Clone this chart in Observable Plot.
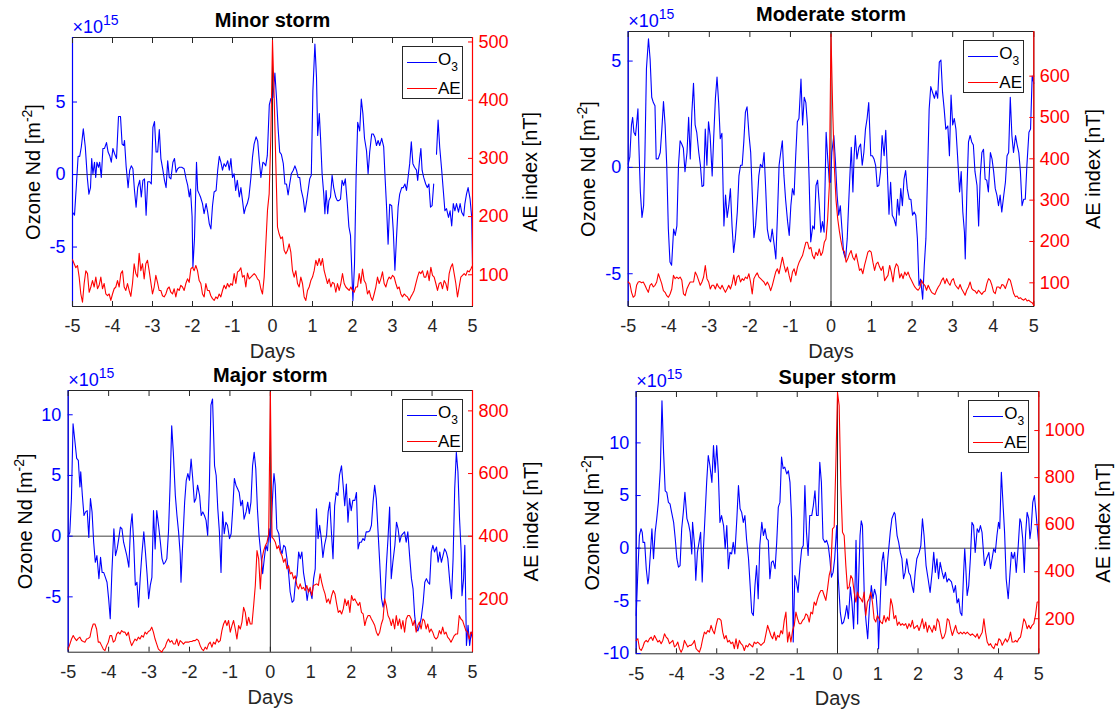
<!DOCTYPE html>
<html><head><meta charset="utf-8">
<script src="https://cdn.jsdelivr.net/npm/d3@7"></script>
<script src="https://cdn.jsdelivr.net/npm/@observablehq/plot@0.6"></script>
<style>
body{margin:0;background:#fff;}
#fig{position:relative;width:1115px;height:710px;overflow:hidden;background:#fff;font-family:"Liberation Sans",Arial,Helvetica,sans-serif;}
.panel{position:absolute;}
.panel svg{position:absolute;left:0;top:0;max-width:none;overflow:visible;}
.legend{position:absolute;width:61px;height:53px;box-sizing:border-box;border:1px solid #262626;background:#fff;font-size:17px;color:#000;}
.legend .sw{position:absolute;left:4px;width:30px;height:1px;}
.legend .lt{position:absolute;left:35px;line-height:17px;white-space:nowrap;}
.legend sub{font-size:12px;position:relative;top:6px;vertical-align:baseline;}
</style></head>
<body><div id="fig"></div>
<script>
// ---------------- DATA ----------------
const dayTicks = [-5,-4,-3,-2,-1,0,1,2,3,4,5];
const titles = ["Minor storm","Moderate storm","Major storm","Super storm"];
const o3Label = "Ozone Nd [m^{-2}]";
const aeLabel = "AE index [nT]";
const xLabel = "Days";
const scaleLabel = "×10^{15}";
const minorO3Ticks = [-5,0,5], minorAETicks = [100,200,300,400,500];
const moderateO3Ticks = [-5,0,5], moderateAETicks = [100,200,300,400,500,600];
const majorO3Ticks = [-5,0,5,10], majorAETicks = [200,400,600,800];
const superO3Ticks = [-10,-5,0,5,10], superAETicks = [200,400,600,800,1000];

// Ozone number density anomaly (x10^15 m^-2): [day, value]
const minorO3 = [[-5.00,-2.6],[-4.95,-2.8],[-4.90,-0.6],[-4.86,1.25],[-4.82,1.25],[-4.78,1.9],[-4.73,3.15],[-4.68,1.9],[-4.63,-0.2],[-4.59,-1.35],[-4.55,-0.9],[-4.52,1.1],[-4.49,0.05],[-4.45,0.85],[-4.42,-0.2],[-4.39,0.85],[-4.35,0.5],[-4.32,0.85],[-4.28,-0.2],[-4.24,1.8],[-4.20,1.8],[-4.15,2.2],[-4.11,1.55],[-4.07,1.3],[-4.03,0.85],[-3.99,1.8],[-3.95,1.45],[-3.90,1.1],[-3.85,4.0],[-3.80,4.0],[-3.76,2.1],[-3.72,2.0],[-3.70,2.35],[-3.66,0.6],[-3.61,-0.9],[-3.57,0.3],[-3.53,0.6],[-3.49,0.4],[-3.45,-1.1],[-3.41,-2.25],[-3.37,-0.9],[-3.32,-0.4],[-3.28,-1.55],[-3.24,-0.4],[-3.20,-0.3],[-3.16,-2.8],[-3.12,-0.5],[-3.07,-0.5],[-3.03,-0.65],[-2.99,3.25],[-2.95,3.65],[-2.91,1.55],[-2.87,1.55],[-2.83,3.1],[-2.79,1.1],[-2.74,0.3],[-2.70,-0.4],[-2.66,-0.9],[-2.62,0.95],[-2.58,-0.2],[-2.54,-0.3],[-2.49,0.85],[-2.45,1.1],[-2.41,0.15],[-2.37,0.4],[-2.33,0.5],[-2.27,0.5],[-2.21,0.4],[-2.16,-0.3],[-2.12,-0.75],[-2.08,-1.55],[-2.05,-1.0],[-2.01,-2.9],[-1.99,-6.4],[-1.95,-4.4],[-1.90,0.85],[-1.87,-1.1],[-1.83,-1.35],[-1.80,-1.55],[-1.75,-2.0],[-1.71,-2.7],[-1.66,-2.0],[-1.62,-2.6],[-1.58,-3.4],[-1.54,-3.75],[-1.50,-2.15],[-1.46,-1.2],[-1.41,-1.1],[-1.37,0.3],[-1.33,1.25],[-1.29,0.85],[-1.25,0.3],[-1.21,0.75],[-1.17,0.55],[-1.12,0.95],[-1.08,0.3],[-1.04,1.1],[-1.00,-0.2],[-0.96,0.05],[-0.92,-1.1],[-0.88,-0.4],[-0.83,-1.55],[-0.79,-0.9],[-0.75,-1.8],[-0.71,-2.7],[-0.67,-2.25],[-0.63,-2.0],[-0.59,-1.55],[-0.54,-0.2],[-0.50,1.2],[-0.46,2.1],[-0.41,2.6],[-0.37,2.3],[-0.33,0.95],[-0.29,-0.2],[-0.24,0.85],[-0.20,0.75],[-0.17,0.6],[-0.13,1.3],[-0.08,4.8],[-0.04,5.25],[0.01,5.3],[0.06,7.0],[0.10,5.3],[0.14,3.2],[0.18,1.55],[0.22,1.4],[0.27,0.75],[0.31,-0.65],[0.35,-0.65],[0.39,-1.4],[0.43,-0.65],[0.47,0.05],[0.52,0.3],[0.56,0.6],[0.60,0.3],[0.64,-0.2],[0.68,-0.2],[0.72,-1.1],[0.77,-1.7],[0.81,-2.6],[0.85,-1.9],[0.89,-1.1],[0.93,-0.3],[0.97,-0.05],[1.01,5.8],[1.06,9.0],[1.10,6.7],[1.13,2.7],[1.17,4.2],[1.20,2.6],[1.24,0.05],[1.28,-1.3],[1.31,-2.7],[1.34,-1.1],[1.38,-2.7],[1.41,-1.8],[1.45,-1.55],[1.49,-0.05],[1.53,-0.9],[1.58,-1.55],[1.62,-1.8],[1.66,-1.8],[1.70,-1.7],[1.74,-0.4],[1.78,-0.75],[1.82,-0.3],[1.87,-2.0],[1.91,-3.6],[1.95,-4.2],[2.01,-8.7],[2.05,-6.2],[2.09,-0.2],[2.13,3.6],[2.18,3.0],[2.22,5.2],[2.26,4.2],[2.30,2.5],[2.35,1.65],[2.39,0.05],[2.43,1.55],[2.48,2.8],[2.52,2.8],[2.56,2.55],[2.60,2.0],[2.64,2.35],[2.68,2.0],[2.73,2.5],[2.78,1.9],[2.81,0.05],[2.85,-2.15],[2.89,-4.8],[2.93,-2.05],[2.98,-2.15],[3.02,-3.9],[3.06,-6.6],[3.10,-4.35],[3.14,-2.25],[3.18,-1.35],[3.23,-0.9],[3.27,-0.9],[3.31,-0.65],[3.35,-1.1],[3.39,-0.2],[3.43,0.75],[3.47,2.25],[3.51,0.75],[3.55,0.5],[3.60,0.3],[3.63,-0.4],[3.68,1.1],[3.71,1.8],[3.74,0.3],[3.78,-0.2],[3.83,-0.65],[3.87,-0.9],[3.91,-0.65],[3.95,-2.25],[3.99,-2.15],[4.03,-0.65],[4.06,null],[4.10,1.4],[4.14,3.75],[4.18,1.9],[4.23,0.3],[4.27,-1.1],[4.31,-2.5],[4.35,-2.35],[4.40,-2.95],[4.44,-2.5],[4.48,-3.55],[4.52,-2.0],[4.56,-2.5],[4.60,-2.0],[4.65,-2.6],[4.69,-2.0],[4.73,-2.6],[4.78,-2.85],[4.81,-2.0],[4.85,-1.35],[4.89,-0.9],[4.94,-1.7],[4.98,-2.95],[5.00,-6.2]];

const moderateO3 = [[-5.00,0.15],[-4.96,0.5],[-4.92,2.0],[-4.89,2.35],[-4.86,1.65],[-4.82,1.5],[-4.79,2.1],[-4.76,2.75],[-4.74,1.2],[-4.70,-1.15],[-4.66,-2.35],[-4.62,-1.8],[-4.59,0.4],[-4.55,4.65],[-4.50,6.05],[-4.46,5.1],[-4.42,3.3],[-4.38,3.05],[-4.34,2.9],[-4.31,0.4],[-4.26,0.4],[-4.21,0.7],[-4.17,1.8],[-4.13,3.1],[-4.09,2.0],[-4.05,0.1],[-4.01,-2.9],[-3.97,-4.45],[-3.93,-4.6],[-3.88,-2.9],[-3.84,-3.2],[-3.80,-2.75],[-3.76,0.1],[-3.72,1.25],[-3.68,1.1],[-3.64,0.9],[-3.60,-0.2],[-3.55,0.7],[-3.51,2.35],[-3.47,0.4],[-3.43,2.6],[-3.39,3.95],[-3.35,2.0],[-3.31,1.65],[-3.26,0.7],[-3.22,0.1],[-3.18,-0.9],[-3.14,-0.85],[-3.10,1.8],[-3.06,0.1],[-3.02,2.15],[-2.98,1.5],[-2.93,-0.4],[-2.89,1.5],[-2.85,3.25],[-2.81,4.25],[-2.77,3.05],[-2.73,1.35],[-2.69,1.6],[-2.64,-2.75],[-2.60,-1.3],[-2.56,-2.35],[-2.52,-1.8],[-2.48,-1.0],[-2.44,-2.75],[-2.40,-4.0],[-2.36,-3.35],[-2.31,-2.1],[-2.27,-0.4],[-2.23,0.1],[-2.19,0.1],[-2.15,1.2],[-2.11,2.6],[-2.07,2.85],[-2.02,1.5],[-1.98,0.7],[-1.94,-1.3],[-1.90,-3.3],[-1.86,-2.75],[-1.82,-1.65],[-1.78,-0.4],[-1.74,0.15],[-1.69,0.0],[-1.65,0.7],[-1.61,-1.0],[-1.57,-2.9],[-1.53,-3.35],[-1.49,-3.5],[-1.45,-2.9],[-1.40,-3.65],[-1.36,-4.3],[-1.32,-2.25],[-1.28,0.1],[-1.24,0.7],[-1.20,1.25],[-1.16,-0.4],[-1.12,-1.5],[-1.07,-2.55],[-1.03,-3.2],[-0.99,-1.8],[-0.95,-1.0],[-0.91,-1.3],[-0.87,0.55],[-0.83,2.15],[-0.79,2.3],[-0.74,4.15],[-0.70,2.0],[-0.66,3.3],[-0.62,3.05],[-0.58,2.0],[-0.54,-0.55],[-0.50,-3.5],[-0.45,-2.75],[-0.41,-2.9],[-0.37,-0.85],[-0.33,-0.6],[-0.29,-1.7],[-0.25,-3.05],[-0.21,-2.55],[-0.17,-3.05],[-0.12,1.65],[-0.08,0.4],[-0.04,-0.7],[-0.01,-0.7],[0.02,0.7],[0.07,1.5],[0.11,0.25],[0.15,-1.3],[0.19,-2.25],[0.23,-1.8],[0.27,-2.9],[0.31,-4.0],[0.36,-4.3],[0.40,-3.35],[0.44,-1.5],[0.47,-0.2],[0.50,0.95],[0.54,-1.15],[0.57,0.55],[0.60,1.5],[0.64,0.4],[0.69,0.95],[0.73,1.1],[0.77,0.1],[0.81,0.7],[0.85,1.8],[0.89,2.3],[0.93,3.05],[0.98,0.55],[1.02,0.55],[1.06,0.4],[1.10,0.1],[1.14,-0.9],[1.18,-0.85],[1.22,-0.2],[1.26,1.5],[1.31,0.55],[1.35,1.75],[1.39,-0.2],[1.43,-2.2],[1.47,-0.7],[1.51,-2.25],[1.55,-2.4],[1.60,-2.75],[1.64,-1.5],[1.68,-2.25],[1.72,-1.0],[1.76,-1.8],[1.80,-0.55],[1.84,-0.15],[1.88,-1.0],[1.93,-1.5],[1.97,-1.5],[2.01,-2.25],[2.05,-2.1],[2.09,-2.25],[2.13,-3.35],[2.17,-5.55],[2.21,-5.25],[2.26,-6.2],[2.30,-4.6],[2.34,-3.35],[2.38,-0.4],[2.42,2.75],[2.46,3.8],[2.50,3.55],[2.55,3.25],[2.59,3.6],[2.63,3.25],[2.67,4.95],[2.71,5.05],[2.75,3.55],[2.79,2.75],[2.83,1.8],[2.88,1.95],[2.92,0.55],[2.96,3.4],[3.00,2.0],[3.04,2.3],[3.08,1.8],[3.12,0.55],[3.17,-1.15],[3.21,-0.2],[3.25,-2.1],[3.29,-3.05],[3.31,-4.3],[3.35,-1.15],[3.39,1.2],[3.43,1.5],[3.47,1.2],[3.51,1.05],[3.55,-0.2],[3.60,-0.85],[3.64,-2.75],[3.68,-0.4],[3.72,0.7],[3.76,0.85],[3.80,-0.55],[3.84,-0.6],[3.88,-1.15],[3.93,0.7],[3.97,0.4],[4.01,-0.2],[4.05,-1.0],[4.09,-1.3],[4.13,-1.8],[4.17,-1.3],[4.21,-2.1],[4.26,-1.3],[4.30,-0.7],[4.34,0.55],[4.38,0.7],[4.42,3.3],[4.46,1.5],[4.50,0.7],[4.55,1.5],[4.59,1.05],[4.63,0.7],[4.67,-0.2],[4.71,-1.8],[4.75,-1.5],[4.79,-1.5],[4.83,0.1],[4.88,1.65],[4.92,1.8],[4.96,4.3],[5.00,3.95]];

const majorO3 = [[-5.00,0],[-4.96,0.3],[-4.92,3.1],[-4.88,9.25],[-4.84,8.0],[-4.79,6.4],[-4.75,6.25],[-4.71,4.05],[-4.69,5.3],[-4.65,3.35],[-4.61,1.7],[-4.57,2.0],[-4.53,2.1],[-4.49,-0.1],[-4.45,3.1],[-4.41,2.0],[-4.37,-0.5],[-4.33,-2.15],[-4.29,-1.6],[-4.24,-3.5],[-4.20,-1.75],[-4.16,-3.0],[-4.12,-3.0],[-4.08,-3.4],[-4.04,-3.8],[-4.00,-5.15],[-3.96,-6.8],[-3.92,-3.0],[-3.87,0.6],[-3.83,-1.6],[-3.79,-1.05],[-3.75,-0.2],[-3.71,0.75],[-3.67,0.6],[-3.63,-0.5],[-3.59,-1.05],[-3.55,-1.6],[-3.50,-2.55],[-3.46,0.6],[-3.42,1.85],[-3.38,-0.5],[-3.34,-4.05],[-3.30,-3.8],[-3.26,-5.85],[-3.22,-3.5],[-3.18,-1.6],[-3.13,0.35],[-3.09,-1.3],[-3.05,-3.1],[-3.01,-5.15],[-2.97,-4.05],[-2.93,-3.4],[-2.89,2.1],[-2.85,-1.05],[-2.81,2.1],[-2.76,0.75],[-2.72,-0.5],[-2.68,-1.85],[-2.64,-2.3],[-2.60,-2.15],[-2.56,-1.85],[-2.52,0.35],[-2.48,4.2],[-2.44,9.1],[-2.40,6.9],[-2.35,3.35],[-2.31,1.7],[-2.27,0.35],[-2.23,-1.45],[-2.21,-3.8],[-2.17,-0.75],[-2.12,2.8],[-2.08,4.6],[-2.04,5.15],[-2.00,4.6],[-1.96,6.35],[-1.92,4.75],[-1.88,2.8],[-1.84,3.1],[-1.80,4.2],[-1.75,3.35],[-1.71,1.7],[-1.67,2.0],[-1.63,1.7],[-1.59,1.3],[-1.55,0.05],[-1.51,3.9],[-1.47,10.8],[-1.43,11.3],[-1.38,5.8],[-1.34,5.0],[-1.30,2.25],[-1.26,0.35],[-1.22,-3.0],[-1.18,2.0],[-1.14,0.2],[-1.10,1.15],[-1.06,0.9],[-1.01,-0.2],[-0.97,0.2],[-0.93,2.25],[-0.89,4.75],[-0.85,4.2],[-0.81,3.9],[-0.77,3.6],[-0.73,2.5],[-0.69,2.95],[-0.65,1.4],[-0.60,2.0],[-0.56,2.8],[-0.52,1.85],[-0.48,2.8],[-0.44,5.8],[-0.40,6.9],[-0.36,5.55],[-0.32,2.25],[-0.28,0.05],[-0.23,-1.6],[-0.19,-3.1],[-0.15,-1.85],[-0.11,-0.75],[-0.07,-1.2],[-0.03,0.6],[0.00,-0.5],[0.02,0.9],[0.07,4.2],[0.09,5.15],[0.12,4.2],[0.16,0.6],[0.21,0.2],[0.25,-1.05],[0.29,-1.45],[0.33,-0.75],[0.37,-0.9],[0.41,-1.85],[0.45,-3.0],[0.49,-4.6],[0.54,-5.45],[0.58,-5.3],[0.62,-3.8],[0.66,-3.25],[0.70,-1.3],[0.74,-1.85],[0.78,-1.3],[0.82,-3.0],[0.87,-4.05],[0.91,-5.3],[0.95,-4.35],[0.99,-4.6],[1.03,-5.15],[1.07,-3.5],[1.11,-2.7],[1.14,2.25],[1.18,-0.2],[1.22,0.9],[1.26,-0.2],[1.30,-1.75],[1.34,-0.75],[1.39,0.05],[1.43,2.0],[1.47,2.8],[1.51,0.35],[1.55,-1.85],[1.59,2.5],[1.63,3.6],[1.67,3.35],[1.71,5.0],[1.76,5.8],[1.80,4.2],[1.84,2.5],[1.88,4.3],[1.92,1.15],[1.96,3.1],[2.00,2.1],[2.04,2.95],[2.09,2.95],[2.13,3.6],[2.17,-1.05],[2.21,-0.5],[2.25,-0.5],[2.29,-0.2],[2.33,-0.35],[2.37,0.35],[2.42,0.35],[2.46,0.45],[2.50,0.9],[2.54,2.8],[2.58,4.2],[2.62,3.1],[2.66,0.6],[2.70,-1.85],[2.75,-5.15],[2.79,-5.85],[2.83,-5.15],[2.87,-2.4],[2.91,-0.2],[2.95,2.4],[2.99,-3.5],[3.03,-2.15],[3.08,-0.75],[3.12,1.15],[3.16,0.6],[3.20,-0.5],[3.24,0.05],[3.28,0.2],[3.32,0.35],[3.36,-0.5],[3.40,0.35],[3.45,-1.85],[3.49,-3.5],[3.53,-4.35],[3.57,-6.55],[3.61,-7.65],[3.65,-7.8],[3.69,-7.35],[3.73,-6.8],[3.78,-5.45],[3.82,-3.8],[3.86,-3.5],[3.90,-3.8],[3.94,-3.95],[3.98,-1.3],[4.02,-0.75],[4.06,-1.3],[4.11,-0.9],[4.15,-2.15],[4.19,-1.3],[4.23,-2.15],[4.27,-1.6],[4.31,-1.05],[4.35,-1.3],[4.39,-1.85],[4.44,-3.8],[4.48,-5.15],[4.52,-1.85],[4.56,3.9],[4.60,6.9],[4.64,5.3],[4.68,1.4],[4.72,-1.3],[4.74,-4.9],[4.78,-3.5],[4.81,-0.75],[4.85,-9.0],[4.89,-7.35],[4.93,-9.0],[4.97,-7.9],[5.00,-8.45]];

const superO3 = [[-5.00,-6.4],[-4.96,-2.3],[-4.92,1.2],[-4.88,1.85],[-4.85,1.5],[-4.83,0.55],[-4.79,0.55],[-4.75,-1.95],[-4.71,-3.4],[-4.69,-2.9],[-4.64,-0.05],[-4.61,1.85],[-4.57,-1.0],[-4.53,1.5],[-4.49,2.8],[-4.45,4.35],[-4.40,7.55],[-4.36,14.0],[-4.32,9.1],[-4.28,5.45],[-4.24,5.3],[-4.20,4.35],[-4.16,4.2],[-4.12,3.4],[-4.07,2.45],[-4.03,0.9],[-3.99,-1.0],[-3.95,-1.8],[-3.91,-1.65],[-3.87,1.85],[-3.83,3.4],[-3.79,5.3],[-3.74,2.8],[-3.70,2.3],[-3.66,1.5],[-3.62,-0.55],[-3.60,2.45],[-3.55,0.25],[-3.52,-3.05],[-3.48,-0.4],[-3.44,0.55],[-3.40,1.5],[-3.36,-3.2],[-3.33,-0.05],[-3.29,3.1],[-3.25,6.25],[-3.21,8.8],[-3.17,7.85],[-3.12,6.25],[-3.08,9.75],[-3.04,7.2],[-3.00,9.75],[-2.96,7.2],[-2.92,2.45],[-2.88,3.1],[-2.83,2.15],[-2.79,-0.05],[-2.75,2.15],[-2.71,-1.95],[-2.67,-0.4],[-2.63,-0.55],[-2.59,0.55],[-2.55,-0.55],[-2.50,2.8],[-2.46,5.95],[-2.42,3.75],[-2.38,3.4],[-2.34,2.45],[-2.30,3.1],[-2.26,0.9],[-2.21,-1.0],[-2.17,-3.55],[-2.13,-6.1],[-2.09,-6.4],[-2.05,-3.55],[-2.01,-1.65],[-1.97,-4.8],[-1.93,0.25],[-1.88,2.45],[-1.84,1.2],[-1.80,1.85],[-1.76,0.9],[-1.72,0.75],[-1.68,-2.9],[-1.64,-1.35],[-1.60,-1.2],[-1.55,-1.95],[-1.51,0.55],[-1.47,3.9],[-1.43,4.35],[-1.39,8.65],[-1.35,7.55],[-1.31,7.7],[-1.26,7.05],[-1.22,7.35],[-1.18,6.25],[-1.14,2.8],[-1.10,-8.9],[-1.06,-2.6],[-1.02,-3.2],[-0.98,-4.2],[-0.93,-1.65],[-0.89,-0.05],[-0.85,0.25],[-0.81,5.95],[-0.77,1.5],[-0.73,-0.7],[-0.69,3.1],[-0.64,3.1],[-0.60,4.05],[-0.56,5.45],[-0.52,3.1],[-0.48,3.1],[-0.44,8.15],[-0.40,6.25],[-0.36,0.9],[-0.31,0.55],[-0.27,0.75],[-0.23,0.25],[-0.19,-1.0],[-0.15,-2.75],[-0.11,-2.3],[-0.07,-1.0],[-0.02,2.15],[0.02,-2.9],[0.07,-6.1],[0.11,-7.2],[0.15,-7.05],[0.19,-6.4],[0.23,-5.45],[0.27,-6.7],[0.32,-3.7],[0.36,-5.2],[0.40,-7.65],[0.44,-2.9],[0.46,0.75],[0.50,-7.2],[0.52,-3.55],[0.56,1.2],[0.59,2.6],[0.62,2.15],[0.67,-5.2],[0.71,-7.0],[0.75,-8.6],[0.79,-5.8],[0.84,-3.55],[0.88,-4.8],[0.92,-3.9],[0.96,-4.5],[1.00,-6.5],[1.02,-9.55],[1.06,-5.2],[1.10,-1.35],[1.14,-0.4],[1.16,-1.35],[1.20,-3.55],[1.25,-1.0],[1.31,1.5],[1.35,2.8],[1.41,3.4],[1.43,3.25],[1.48,1.2],[1.52,0.55],[1.56,-0.4],[1.60,-1.0],[1.64,-2.9],[1.68,-2.3],[1.72,-1.0],[1.77,-2.3],[1.81,-2.6],[1.85,-3.55],[1.89,-4.2],[1.93,-2.3],[1.97,-1.0],[2.03,-0.4],[2.07,0.25],[2.11,2.8],[2.15,1.2],[2.20,-1.65],[2.25,-2.9],[2.30,-4.2],[2.35,-2.3],[2.39,-0.4],[2.43,-2.3],[2.47,-1.0],[2.51,-2.9],[2.55,-1.35],[2.60,-2.3],[2.64,-2.9],[2.68,-2.3],[2.72,-3.2],[2.76,-2.9],[2.83,-3.2],[2.89,-4.2],[2.93,-3.55],[2.97,-5.2],[3.01,-4.8],[3.05,-6.1],[3.09,-6.4],[3.13,-2.6],[3.16,-0.05],[3.18,-1.35],[3.22,-4.5],[3.26,-3.55],[3.30,-1.0],[3.34,2.45],[3.38,2.15],[3.42,-0.4],[3.47,1.85],[3.51,1.5],[3.55,2.15],[3.59,1.5],[3.65,-1.65],[3.70,-1.0],[3.76,-0.4],[3.80,-1.95],[3.84,-1.0],[3.88,-0.05],[3.92,-0.4],[3.96,1.2],[4.00,2.45],[4.03,1.85],[4.07,7.2],[4.10,5.0],[4.15,1.5],[4.19,-2.9],[4.24,-4.8],[4.28,-2.6],[4.32,-0.4],[4.36,-1.0],[4.40,-0.4],[4.44,-2.3],[4.49,0.25],[4.53,2.8],[4.56,2.45],[4.60,0.9],[4.64,-2.3],[4.67,1.2],[4.71,3.4],[4.75,2.8],[4.78,0.9],[4.81,1.85],[4.85,4.35],[4.89,5.0],[4.93,3.4],[5.00,0.25]];

// AE index (nT), evenly sampled: one array from day -5 to 0, one from day 0 to 5
const minorAEBefore = [126,119,112,116,96,67,53,85,107,102,70,79,90,79,96,76,82,96,76,85,67,64,67,56,67,76,79,90,79,102,107,79,73,85,73,63,85,119,102,96,137,107,119,93,119,125,107,87,67,79,99,87,73,73,64,62,67,76,79,70,67,76,62,76,73,82,79,73,85,93,87,110,113,107,116,107,90,85,67,62,85,73,73,64,59,56,62,59,67,62,73,82,76,85,79,85,82,102,85,105,107,112,96,99,79,103,93,96,99,102,99,93,90,76,67,96,153,211,239,337,503];
const minorAEAfter = [497,405,291,182,170,162,165,142,136,142,153,139,107,96,107,85,79,96,85,62,56,73,79,90,96,107,125,116,128,116,128,107,96,85,93,79,87,85,70,85,73,85,102,85,79,76,73,79,73,70,79,79,102,85,110,90,85,67,73,62,56,67,79,96,85,93,105,85,79,90,96,93,99,96,85,76,79,67,62,67,64,62,56,62,67,73,85,96,105,102,107,96,96,107,90,113,99,96,85,73,85,87,76,90,85,73,102,113,119,102,85,62,79,96,99,102,99,107,105,110,116];
const moderateAEBefore = [102,98,77,65,69,94,102,103,100,102,94,85,77,94,98,90,94,102,122,110,98,81,77,69,65,73,85,118,110,114,110,114,106,73,69,85,94,102,102,102,126,118,106,94,102,114,142,110,102,85,94,94,85,98,90,85,94,85,77,85,94,85,98,119,94,114,118,102,110,106,114,110,122,102,73,110,118,124,114,110,106,102,94,102,94,81,94,110,126,134,122,142,162,142,126,138,118,102,126,134,118,138,150,158,166,182,198,198,182,186,166,158,174,166,182,166,174,198,206,255,335,702];
const moderateAEAfter = [702,520,380,300,255,225,200,180,176,150,158,170,178,162,155,170,150,130,134,122,142,158,174,178,174,150,130,146,150,138,130,140,105,112,118,142,126,102,134,146,140,112,122,110,126,118,126,114,106,98,90,85,82,88,106,98,94,82,94,85,77,74,72,82,90,96,106,112,98,110,100,94,106,110,96,90,85,96,85,78,70,82,90,102,86,82,80,74,82,77,72,78,80,98,110,106,94,78,74,90,90,86,96,94,86,98,110,106,90,74,66,68,62,64,60,58,62,56,58,54,52,46];
const majorAEBefore = [40,56,72,83,74,67,74,78,67,64,62,72,74,78,104,120,120,104,62,62,51,40,35,51,62,83,83,62,67,88,94,88,99,94,94,83,94,67,51,62,72,67,78,72,83,78,94,88,96,99,110,94,72,56,40,35,30,40,46,62,72,62,67,56,56,72,51,67,62,56,62,62,62,64,64,67,67,72,67,51,40,35,46,40,56,62,46,62,56,72,62,67,99,120,131,115,131,94,115,131,104,72,115,104,126,173,157,115,141,120,120,179,243,354,328,232,328,354,370,381,407,860];
const majorAEAfter = [850,397,391,381,360,370,349,338,317,328,296,306,280,285,264,274,243,232,248,232,237,227,243,221,237,211,243,245,248,243,280,253,232,216,189,200,184,211,227,216,184,157,163,152,168,200,179,195,157,211,195,200,189,179,189,157,152,115,136,147,147,136,126,115,94,83,94,120,136,200,179,147,136,115,136,104,147,115,136,104,131,94,136,147,147,136,115,131,94,115,126,104,136,131,104,120,94,104,94,78,72,78,99,88,110,88,94,78,72,62,72,83,88,88,147,136,131,115,99,94,72,94,88];
const superAEBefore = [108,115,73,65,80,101,108,101,115,122,108,129,115,101,108,94,108,136,122,115,94,101,108,80,87,101,73,58,73,108,94,80,87,87,94,108,73,65,58,80,115,143,136,150,143,172,150,136,172,200,200,193,143,115,129,101,108,94,101,73,115,73,108,94,87,65,87,80,94,87,80,101,94,101,94,87,94,101,136,172,150,129,115,143,108,129,122,150,136,193,228,101,143,101,150,172,228,200,179,179,193,200,221,214,186,228,221,271,257,285,306,320,320,299,278,327,384,412,582,590,852,1163];
const superAEAfter = [1163,1106,767,568,554,427,327,335,384,370,313,271,313,292,285,271,313,214,271,285,313,271,200,186,214,200,186,179,214,186,207,193,285,257,200,214,172,186,172,179,172,179,158,179,165,193,158,165,172,150,172,200,158,186,143,172,158,143,172,150,200,186,143,115,122,143,200,193,158,129,150,172,143,136,143,136,143,136,143,136,129,136,129,122,136,115,129,143,200,143,101,87,94,80,73,94,87,115,108,87,101,115,101,115,143,101,101,108,101,115,122,158,200,186,158,172,158,172,179,214,271,271];

// ---------------- LAYOUT ----------------
const FONT = '"Liberation Sans", Arial, Helvetica, sans-serif';
const layout = [
  {left:0,   top:0,   width:557, height:360, mL:72,   mR:85,   mT:37, mB:54,   o3Domain:[-9.1,9.45],  aeDomain:[45.5,507.7], titleDy:17, yLab:39, aeLab:58},
  {left:557, top:0,   width:558, height:360, mL:70.7, mR:81.7, mT:31, mB:54,   o3Domain:[-6.54,6.39], aeDomain:[42.7,708],   titleDy:17, yLab:40, aeLab:60},
  {left:0,   top:360, width:557, height:350, mL:67.7, mR:85,   mT:30, mB:58.3, o3Domain:[-9.56,12.0], aeDomain:[30,865],     titleDy:15, yLab:43, aeLab:59},
  {left:557, top:360, width:558, height:350, mL:78.7, mR:76.7, mT:31, mB:56.7, o3Domain:[-10.03,14.88],aeDomain:[51,1166],   titleDy:14, yLab:44, aeLab:65}
];
const series = [
  {o3: minorO3, o3Ticks: minorO3Ticks, aeBefore: minorAEBefore, aeAfter: minorAEAfter, aeTicks: minorAETicks},
  {o3: moderateO3, o3Ticks: moderateO3Ticks, aeBefore: moderateAEBefore, aeAfter: moderateAEAfter, aeTicks: moderateAETicks},
  {o3: majorO3, o3Ticks: majorO3Ticks, aeBefore: majorAEBefore, aeAfter: majorAEAfter, aeTicks: majorAETicks},
  {o3: superO3, o3Ticks: superO3Ticks, aeBefore: superAEBefore, aeAfter: superAEAfter, aeTicks: superAETicks}
];

// evenly spaced sampling grid for the AE arrays
function sampled(values, start, end) {
  const n = values.length;
  return values.map((v, i) => ({day: start + (end - start) * i / (n - 1), value: v}));
}

// turn "a^{b}c" into superscripted tspans
function supify(svg, fontSize, supSize) {
  const ns = "http://www.w3.org/2000/svg";
  svg.querySelectorAll("text").forEach(t => {
    const s = t.textContent;
    const m = s.match(/^(.*)\^\{(.*)\}(.*)$/);
    if (!m) return;
    const fs = s.startsWith("×") ? 18 : fontSize;
    const ss = s.startsWith("×") ? 14 : supSize;
    while (t.firstChild) t.removeChild(t.firstChild);
    const shift = fs * 0.4;
    const a = document.createElementNS(ns, "tspan"); a.textContent = m[1]; t.appendChild(a);
    const b = document.createElementNS(ns, "tspan"); b.textContent = m[2];
    b.setAttribute("dy", -shift); b.setAttribute("font-size", ss); t.appendChild(b);
    if (m[3]) { const c = document.createElementNS(ns, "tspan"); c.textContent = m[3]; c.setAttribute("dy", shift); t.appendChild(c); }
  });
}

const fig = document.getElementById("fig");
layout.forEach((L, k) => {
  const S = series[k];
  const div = document.createElement("div");
  div.className = "panel";
  Object.assign(div.style, {left: L.left + "px", top: L.top + "px", width: L.width + "px", height: L.height + "px"});
  fig.appendChild(div);
  const common = {
    width: L.width, height: L.height,
    marginLeft: L.mL, marginRight: L.mR, marginTop: L.mT, marginBottom: L.mB,
    style: {background: "transparent", fontFamily: FONT, overflow: "visible"}
  };
  const o3Data = S.o3.map(([day, value]) => ({day, value}));
  const aeData = sampled(S.aeBefore, -5, 0).concat(sampled(S.aeAfter, 0, 5).slice(1));

  const o3Svg = Plot.plot({
    ...common,
    x: {domain: [-5, 5]},
    y: {domain: L.o3Domain},
    marks: [
      Plot.frame({stroke: "#262626", strokeWidth: 1}),
      Plot.ruleY([0], {stroke: "#000", strokeOpacity: 0.75, strokeWidth: 1}),
      Plot.ruleX([0], {stroke: "#000", strokeOpacity: 0.85, strokeWidth: 1}),
      Plot.line(o3Data, {x: "day", y: "value", stroke: "#0000ff", strokeWidth: 1.1}),
      Plot.ruleX([-5], {stroke: "#0000ff", strokeWidth: 1.2}),
      Plot.axisX({ticks: dayTicks, tickSize: -5, tickPadding: 18, tickFormat: d => String(d), fontSize: 18, fill: "#262626", stroke: "#262626", label: null}),
      Plot.axisX({anchor: "top", ticks: dayTicks, tickSize: -5, tickFormat: () => "", stroke: "#262626", label: null}),
      Plot.axisY({ticks: S.o3Ticks, tickSize: -5, tickPadding: 12, tickFormat: d => String(d), fontSize: 18, fill: "#0000ff", stroke: "#0000ff", label: null}),
      Plot.text([titles[k]], {text: d => d, frameAnchor: "top", textAnchor: "middle", dy: -L.titleDy, fontSize: 20, fontWeight: "bold", fill: "#000", lineAnchor: "middle"}),
      Plot.text([xLabel], {text: d => d, frameAnchor: "bottom", textAnchor: "middle", dy: 45, fontSize: 20, fill: "#262626", lineAnchor: "middle"}),
      Plot.text([o3Label], {text: d => d, frameAnchor: "left", textAnchor: "middle", dx: -L.yLab, rotate: -90, fontSize: 20, fill: "#000", lineAnchor: "middle"}),
      Plot.text([scaleLabel], {text: d => d, frameAnchor: "top-left", textAnchor: "start", lineAnchor: "bottom", dy: -5, fontSize: 18, fill: "#0000ff"})
    ]
  });
  supify(o3Svg, 20, 14);

  const aeSvg = Plot.plot({
    ...common,
    x: {domain: [-5, 5], axis: null},
    y: {domain: L.aeDomain},
    marks: [
      Plot.line(aeData, {x: "day", y: "value", stroke: "#ff0000", strokeWidth: 1.1}),
      Plot.ruleX([5], {stroke: "#ff0000", strokeWidth: 1.2}),
      Plot.axisY({anchor: "right", ticks: S.aeTicks, tickSize: -5, tickPadding: 11, tickFormat: d => String(d), fontSize: 18, fill: "#ff0000", stroke: "#ff0000", label: null}),
      Plot.text([aeLabel], {text: d => d, frameAnchor: "right", textAnchor: "middle", dx: L.aeLab, rotate: -90, fontSize: 20, fill: "#000", lineAnchor: "middle"})
    ]
  });
  div.appendChild(o3Svg);
  div.appendChild(aeSvg);

  // legend
  const leg = document.createElement("div");
  leg.className = "legend";
  leg.style.left = (L.width - L.mR - 9 - 61) + "px";
  leg.style.top = Math.round(L.mT + 9) + "px";
  leg.innerHTML =
    '<div class="sw" style="top:15px;background:#0000ff"></div><div class="lt" style="top:4px">O<sub>3</sub></div>' +
    '<div class="sw" style="top:41px;background:#ff0000"></div><div class="lt" style="top:33px">AE</div>';
  div.appendChild(leg);
});
</script>
</body></html>
